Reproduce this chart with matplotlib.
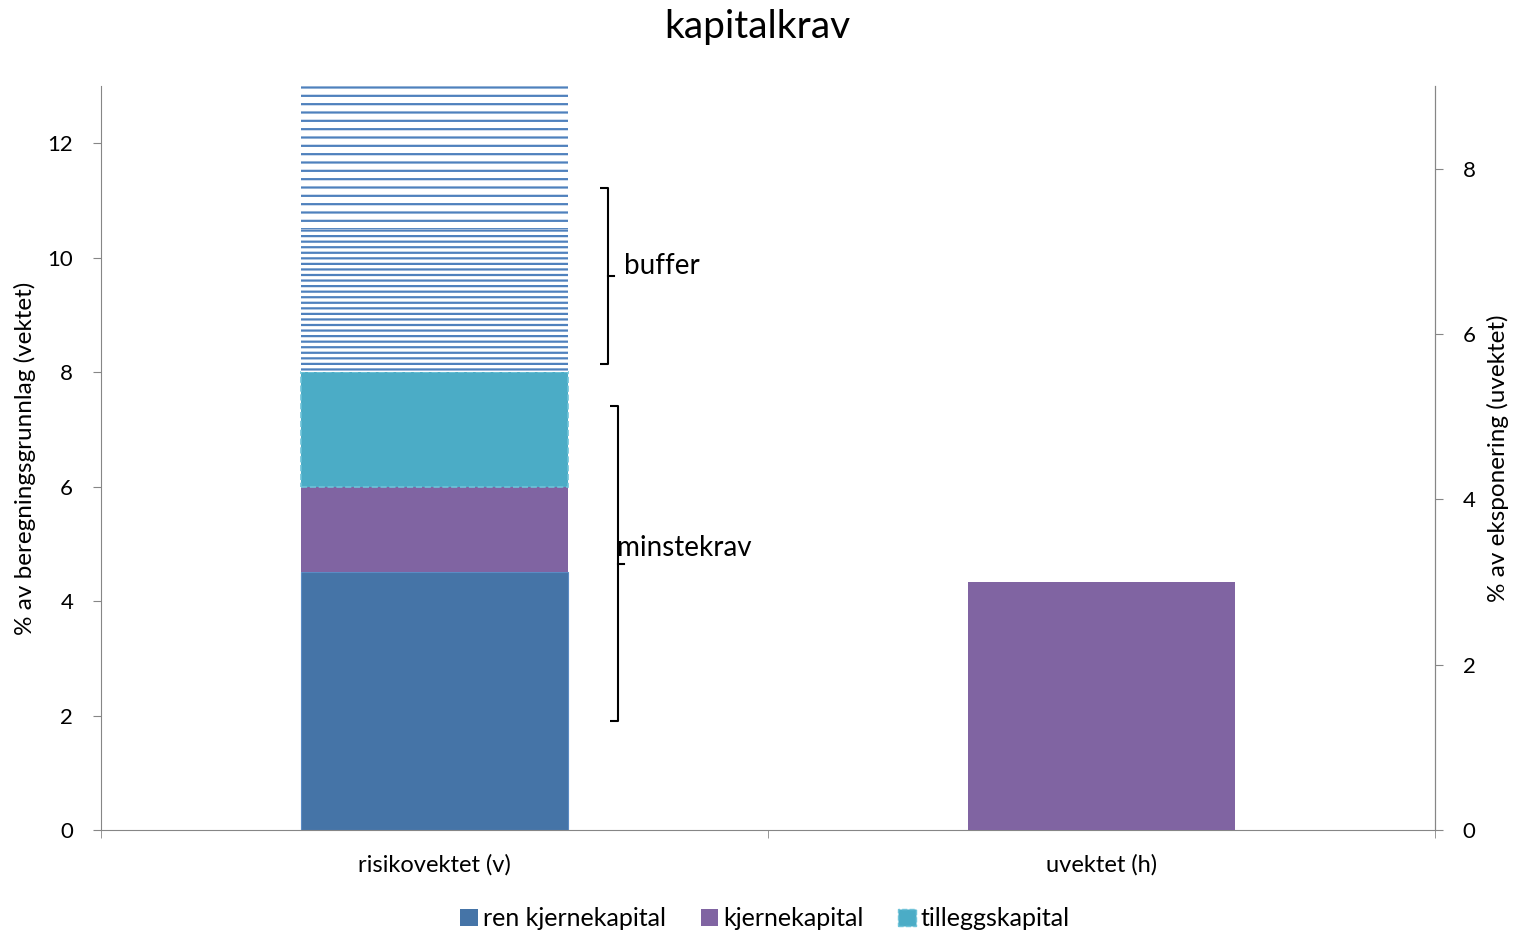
import matplotlib
matplotlib.use("Agg")
import matplotlib.pyplot as plt
from matplotlib.patches import Patch

plt.rcParams['font.family'] = ['Lato', 'DejaVu Sans']

# data
kategorier = ['risikovektet (v)', 'uvektet (h)']
ren_kjerne = 4.5
kjerne_v = 1.5
tillegg = 2.0
buffer_a = 2.5   # tett skravur
buffer_b = 2.5   # glissen skravur
kjerne_h = 3.0   # uvektet, hoyre akse

venstre_ticks = [0, 2, 4, 6, 8, 10, 12]
hoyre_ticks = [0, 2, 4, 6, 8]

c_ren = '#4574A7'
c_kjerne = '#8064A2'
c_tillegg = '#4BACC6'
c_hatch = '#4F81BD'
c_akse = '#868686'

fig = plt.figure(figsize=(15.15, 9.36), dpi=100)
ax = fig.add_axes([101/1515, 1 - 830/936, 1334/1515, 744/936])
ax2 = ax.twinx()

plt.rcParams['hatch.color'] = c_hatch
plt.rcParams['hatch.linewidth'] = 1.6

b = 0.4
ax.bar(0, ren_kjerne, width=b, color=c_ren, edgecolor='#5B8BC4', linewidth=0.8)
ax.bar(0, kjerne_v, width=b, bottom=ren_kjerne, color=c_kjerne, linewidth=0)
ax.bar(0, tillegg, width=b, bottom=ren_kjerne + kjerne_v, color=c_tillegg,
       edgecolor='#6FC3D9', linewidth=1.2, linestyle='--')
ax.bar(0, buffer_a, width=b, bottom=ren_kjerne + kjerne_v + tillegg,
       color='white', hatch='---', linewidth=0)
ax.bar(0, buffer_b, width=b, bottom=ren_kjerne + kjerne_v + tillegg + buffer_a,
       color='white', hatch='--', linewidth=0)

ax2.bar(1, kjerne_h, width=b, color=c_kjerne, linewidth=0)

ax.set_xlim(-0.5, 1.5)
ax.set_ylim(0, 13)
ax2.set_ylim(0, 9)

ax.set_yticks(venstre_ticks)
ax2.set_yticks(hoyre_ticks)
ax.set_xticks([0, 1])
ax.set_xticklabels(kategorier)
ax.set_xticks([-0.5, 0.5, 1.5], minor=True)
ax.tick_params(axis='x', which='major', length=0, pad=17, labelsize=17)
ax.tick_params(axis='x', which='minor', length=6, color=c_akse, direction='out')
ax.tick_params(axis='y', labelsize=16, length=6, color=c_akse, pad=14)
ax2.tick_params(axis='y', labelsize=16, length=6, color=c_akse, pad=14)

for a in (ax, ax2):
    a.spines['top'].set_visible(False)
    for s in ('left', 'right', 'bottom'):
        a.spines[s].set_color(c_akse)
ax2.spines['left'].set_visible(False)
ax2.spines['bottom'].set_visible(False)

ax.set_ylabel('% av beregningsgrunnlag (vektet)', fontsize=17.5, labelpad=8)
ax2.set_ylabel('% av eksponering (uvektet)', fontsize=17.5, rotation=90, labelpad=8)

fig.suptitle('kapitalkrav', fontsize=28, y=0.99)


# klammer
def klamme(x, y0, y1, tekst, dx_tekst, dy_tekst):
    d = 0.012
    midt = (y0 + y1) / 2
    ax.plot([x - d, x, x, x - d], [y1, y1, y0, y0], color='black', lw=1.5,
            solid_capstyle='butt', clip_on=False)
    ax.plot([x, x + d * 0.7], [midt, midt], color='black', lw=1.5, clip_on=False)
    ax.text(x + dx_tekst, midt + dy_tekst, tekst, fontsize=20, va='bottom', ha='left')


klamme(0.26, 8.15, 11.22, 'buffer', 0.024, -0.05)
klamme(0.275, 1.9, 7.4, 'minstekrav', -0.002, 0.05)

handles = [Patch(facecolor=c_ren, label='ren kjernekapital'),
           Patch(facecolor=c_kjerne, label='kjernekapital'),
           Patch(facecolor=c_tillegg, edgecolor='#6FC3D9', linestyle='--', label='tilleggskapital')]
fig.legend(handles=handles, loc='lower center', ncol=3, frameon=False, fontsize=18,
           bbox_to_anchor=(0.505, -0.018), handlelength=0.7, handleheight=0.7,
           handletextpad=0.2, columnspacing=1.4)

fig.savefig('out.png', dpi=100)
